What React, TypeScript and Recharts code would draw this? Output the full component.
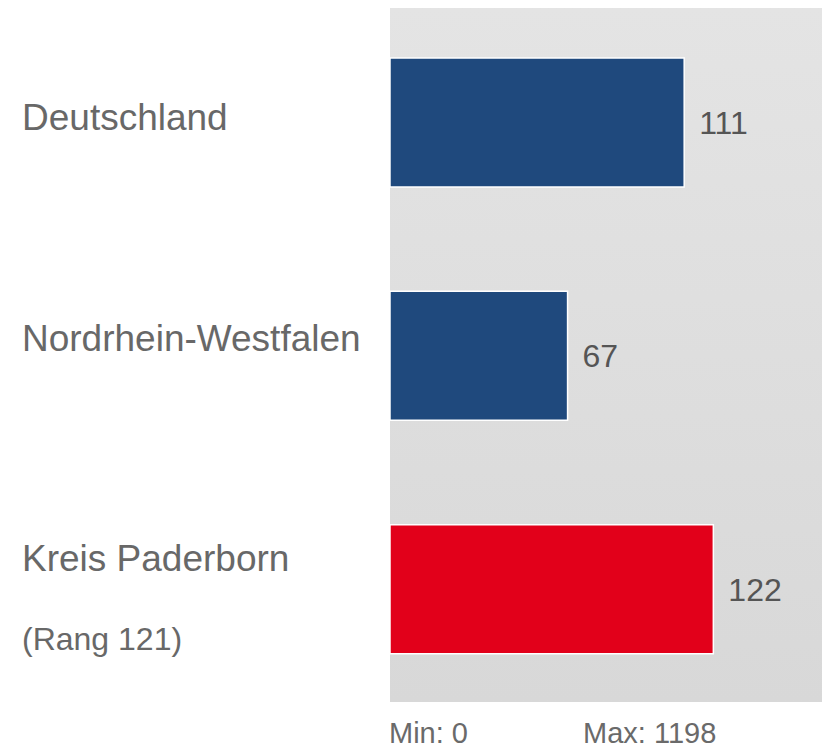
import { BarChart, Bar, XAxis, YAxis, Cell, LabelList } from "recharts";

const NAMES = ["Deutschland", "Nordrhein-Westfalen", "Kreis Paderborn"];
const SUBLABELS = ["", "", "(Rang 121)"];
const VALUES = [111, 67, 122];
const COLORS = ["#1F497D", "#1F497D", "#E2001A"];
const RANGE_TEXT = ["Min: 0", "Max: 1198"];

const DATA = NAMES.map((name, i) => ({ name, sub: SUBLABELS[i], value: VALUES[i] }));

const FONT = "'Liberation Sans', Arial, sans-serif";

function NameTick(props: any) {
  const { y, payload } = props;
  const sub = SUBLABELS[payload.index];
  return (
    <g>
      <text x={22} y={y} dy={13} fontSize={37} fill="#686868" textAnchor="start">
        {payload.value}
      </text>
      {sub && (
        <text x={22} y={y} dy={92} fontSize={32} fill="#686868" textAnchor="start">
          {sub}
        </text>
      )}
    </g>
  );
}

export default function App() {
  return (
    <div style={{ position: "absolute", left: 0, top: 0, width: 822, height: 751, fontFamily: FONT, background: "#fff" }}>
      {/* plot background */}
      <div style={{
        position: "absolute", left: 390, top: 8, width: 432, height: 694,
        background: "linear-gradient(#e4e4e4, #d8d8d8)",
      }} />
      <div style={{ position: "absolute", left: 0, top: 0 }}>
        <BarChart width={822} height={751} data={DATA} layout="vertical"
          margin={{ top: 6, right: 0, bottom: 45, left: 0 }}>
          <XAxis type="number" domain={[0, 163]} hide />
          <YAxis yAxisId="bars" type="category" dataKey="name" hide />
          <YAxis yAxisId="labels" type="category" dataKey="name" width={390}
            axisLine={false} tickLine={false} tick={<NameTick />}
            padding={{ top: 1, bottom: 38 }} interval={0} />
          <Bar yAxisId="bars" dataKey="value" barSize={129} stroke="#fff" strokeWidth={1.5}
            isAnimationActive={false}>
            {DATA.map((d, i) => <Cell key={d.name} fill={COLORS[i]} />)}
            <LabelList dataKey="value" position="right" offset={15} fill="#555" fontSize={32} />
          </Bar>
        </BarChart>
      </div>
      <div style={{ position: "absolute", left: 389, top: 719, fontSize: 29, lineHeight: 1, color: "#6a6a6a" }}>
        {RANGE_TEXT[0]}
      </div>
      <div style={{ position: "absolute", left: 583, top: 719, fontSize: 29, lineHeight: 1, color: "#6a6a6a" }}>
        {RANGE_TEXT[1]}
      </div>
    </div>
  );
}
